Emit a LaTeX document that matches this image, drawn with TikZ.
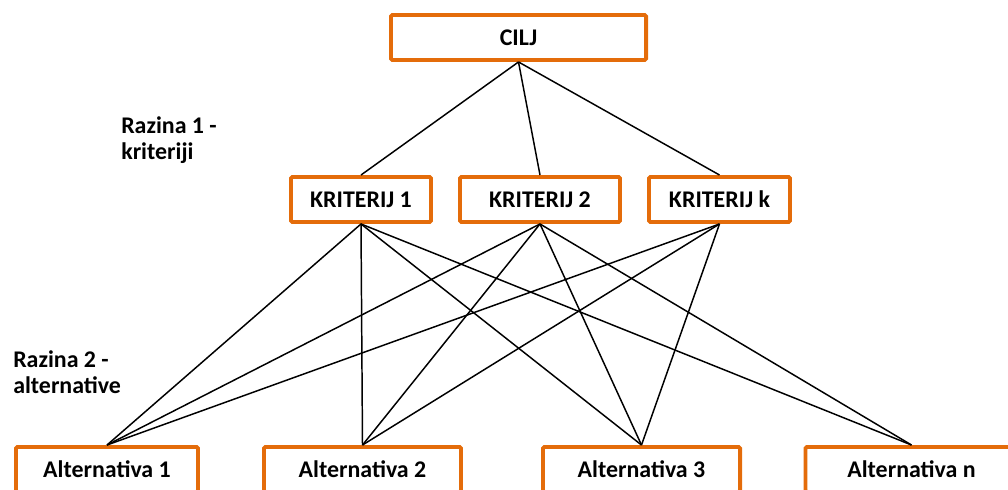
\documentclass[tikz,border=0pt]{standalone}
\usepackage{fontspec}
\setmainfont{Carlito}
\definecolor{boxorange}{RGB}{228,108,10}

\begin{document}
\begin{tikzpicture}
  [x=0.025cm,y=-0.025cm,
    every node/.style={font=\fontsize{17}{21}\selectfont\bfseries},
    box/.style={draw=boxorange,line width=2.8pt,fill=white,rounded corners=1pt,
      minimum height=1.125cm,inner sep=0pt},
    link/.style={line width=1.05pt},
    level/.style={align=left,anchor=north west,inner sep=0pt,
      font=\fontsize{17}{18.5}\selectfont\bfseries},
]
  \useasboundingbox (0,0) rectangle (1008,490);
  \clip (0,0) rectangle (1008,490);

  % levels
  \node[box,minimum width=6.375cm] (cilj) at (518.5,37.5) {CILJ};
  \node[box,minimum width=3.5cm] (krit1) at (361,199.5) {KRITERIJ 1};
  \node[box,minimum width=4cm] (krit2) at (540,199.5) {KRITERIJ 2};
  \node[box,minimum width=3.525cm] (kritk) at (719.5,199.5) {KRITERIJ k};
  \node[box,minimum width=4.55cm] (alt1) at (107,469.5) {Alternativa 1};
  \node[box,minimum width=4.925cm] (alt2) at (362.5,469.5) {Alternativa 2};
  \node[box,minimum width=4.925cm] (alt3) at (641.5,469.5) {Alternativa 3};
  \node[box,minimum width=5.3cm] (altn) at (911.5,469.5) {Alternativa n};

  \node[level] (raz1) at (121,116.5) {Razina 1 -\\kriteriji};
  \node[level] (raz2) at (13,350) {Razina 2 -\\alternative};

  % cilj -> kriteriji
  \draw[link] (cilj.south) -- (krit1.north);
  \draw[link] (cilj.south) -- (krit2.north);
  \draw[link] (cilj.south) -- (kritk.north);

  % kriteriji -> alternative
  \draw[link] (krit1.south) -- (alt1.north);
  \draw[link] (krit1.south) -- (alt2.north);
  \draw[link] (krit1.south) -- (alt3.north);
  \draw[link] (krit1.south) -- (altn.north);
  \draw[link] (krit2.south) -- (alt1.north);
  \draw[link] (krit2.south) -- (alt2.north);
  \draw[link] (krit2.south) -- (alt3.north);
  \draw[link] (krit2.south) -- (altn.north);
  \draw[link] (kritk.south) -- (alt1.north);
  \draw[link] (kritk.south) -- (alt2.north);
  \draw[link] (kritk.south) -- (alt3.north);
\end{tikzpicture}
\end{document}
